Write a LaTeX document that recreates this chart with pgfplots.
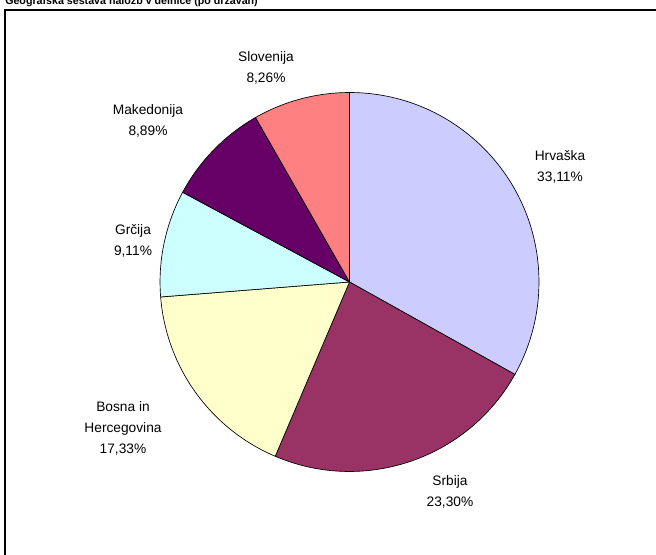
\documentclass[border=0pt]{standalone}
\usepackage{pgfplots}
\pgfplotsset{compat=1.18}
\usepackage{pgfplotstable}
\usepackage{fontspec}
\setmainfont{Liberation Sans}
\definecolor{cHr}{HTML}{CCCCFF}
\definecolor{cSr}{HTML}{993366}
\definecolor{cBo}{HTML}{FFFFCC}
\definecolor{cGr}{HTML}{CCFFFF}
\definecolor{cMa}{HTML}{660066}
\definecolor{cSl}{HTML}{FF8080}

\pgfplotstableread[col sep=comma]{
name,value
Hrvaska,33.11
Srbija,23.30
Bosna,17.33
Grcija,9.11
Makedonija,8.89
Slovenija,8.26
}\piedata

\pgfplotstablegetelem{0}{value}\of\piedata \let\vA\pgfplotsretval
\pgfplotstablegetelem{1}{value}\of\piedata \let\vB\pgfplotsretval
\pgfplotstablegetelem{2}{value}\of\piedata \let\vC\pgfplotsretval
\pgfplotstablegetelem{3}{value}\of\piedata \let\vD\pgfplotsretval
\pgfplotstablegetelem{4}{value}\of\piedata \let\vE\pgfplotsretval
\pgfplotstablegetelem{5}{value}\of\piedata \let\vF\pgfplotsretval
\pgfmathsetmacro{\aO}{90}
\pgfmathsetmacro{\aA}{\aO-3.6*\vA}
\pgfmathsetmacro{\aB}{\aA-3.6*\vB}
\pgfmathsetmacro{\aC}{\aB-3.6*\vC}
\pgfmathsetmacro{\aD}{\aC-3.6*\vD}
\pgfmathsetmacro{\aE}{\aD-3.6*\vE}
\pgfmathsetmacro{\aF}{\aE-3.6*\vF}
\def\R{142.1pt}

\begin{document}
\begin{tikzpicture}
\begin{axis}[hide axis, x=0.75pt, y=0.75pt, xmin=0, xmax=656, ymin=0, ymax=555, clip=false]
\coordinate (bl) at (axis cs:0,0);
\coordinate (tr) at (axis cs:656,555);
\filldraw[fill=cHr, draw=black, line width=0.5pt] (axis cs:349.5,273) -- ++(\aO:\R) arc[start angle=\aO, end angle=\aA, radius=\R] -- cycle;
\filldraw[fill=cSr, draw=black, line width=0.5pt] (axis cs:349.5,273) -- ++(\aA:\R) arc[start angle=\aA, end angle=\aB, radius=\R] -- cycle;
\filldraw[fill=cBo, draw=black, line width=0.5pt] (axis cs:349.5,273) -- ++(\aB:\R) arc[start angle=\aB, end angle=\aC, radius=\R] -- cycle;
\filldraw[fill=cGr, draw=black, line width=0.5pt] (axis cs:349.5,273) -- ++(\aC:\R) arc[start angle=\aC, end angle=\aD, radius=\R] -- cycle;
\filldraw[fill=cMa, draw=black, line width=0.5pt] (axis cs:349.5,273) -- ++(\aD:\R) arc[start angle=\aD, end angle=\aE, radius=\R] -- cycle;
\filldraw[fill=cSl, draw=black, line width=0.5pt] (axis cs:349.5,273) -- ++(\aE:\R) arc[start angle=\aE, end angle=\aF, radius=\R] -- cycle;
\begin{scope}[every node/.style={align=center, inner sep=0pt, font=\fontsize{10.3}{15.8}\selectfont}]
\node at (axis cs:560,388) {Hrvaška\\33,11\%};
\node at (axis cs:450,63) {Srbija\\23,30\%};
\node at (axis cs:123,127) {Bosna in\\Hercegovina\\17,33\%};
\node at (axis cs:133,314) {Grčija\\9,11\%};
\node at (axis cs:148,434) {Makedonija\\8,89\%};
\node at (axis cs:266,487) {Slovenija\\8,26\%};
\end{scope}
\node[anchor=base west, inner sep=0pt, font=\fontsize{8}{9}\selectfont\bfseries] at (axis cs:5,550.5) {Geografska sestava naložb v delnice (po državah)};
\draw[line width=1.5pt] (axis cs:5,-20) -- (axis cs:5,545) -- (axis cs:700,545);
\end{axis}
\pgfresetboundingbox
\path[use as bounding box] (bl) rectangle (tr);
\end{tikzpicture}
\end{document}
